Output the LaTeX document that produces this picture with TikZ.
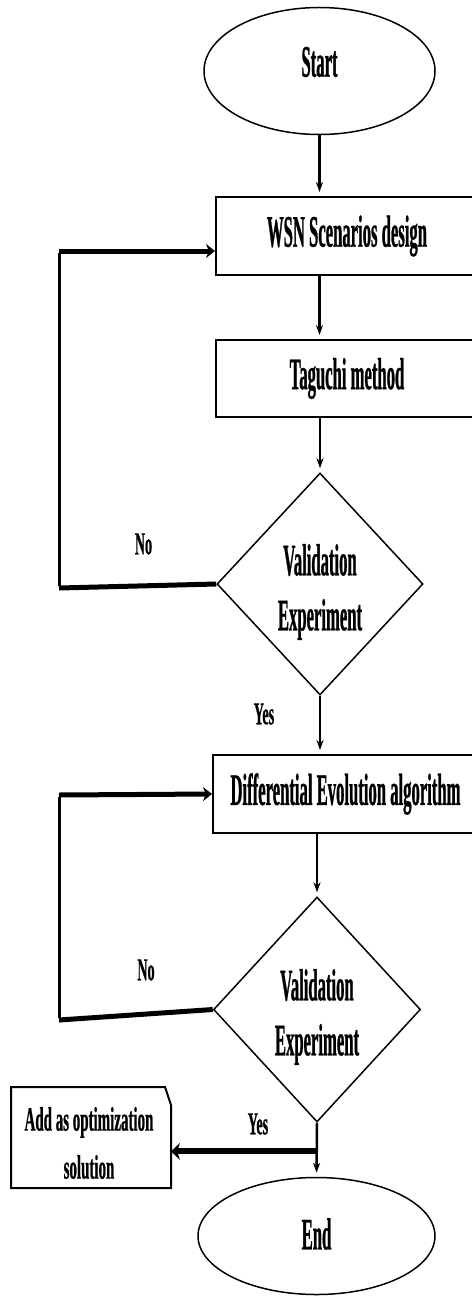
\documentclass[tikz,border=0pt]{standalone}
\usepackage{fontspec}
\setmainfont{Liberation Serif}[FakeStretch=0.37, BoldFeatures={FakeBold=0.6}]
\newfontfamily\notefont{Liberation Serif}[FakeStretch=0.44, BoldFeatures={FakeBold=0.6}]
\usetikzlibrary{shapes.geometric,arrows.meta,calc}
\tikzset{
  big/.style={font=\bfseries\fontsize{45}{55}\selectfont, align=center, inner sep=0pt},
  small/.style={font=\notefont\bfseries\fontsize{32}{47}\selectfont, align=center, inner sep=0pt},
  note/.style={font=\notefont\bfseries\fontsize{34}{48}\selectfont, align=center, inner sep=0pt},
  terminal/.style={ellipse, draw, line width=1.5pt, inner sep=0pt},
  process/.style={rectangle, draw, line width=2pt, inner sep=0pt},
  decision/.style={diamond, draw, line width=1.5pt, inner sep=0pt},
  flow/.style={line width=2.5pt, -{Stealth[length=10pt,width=7pt]}, shorten >=4pt},
  loopline/.style={line width=3pt},
  loophead/.style={line width=5pt, -{Stealth[length=9pt,width=14pt]}},
  loopbase/.style={line width=5pt},
  yesarrow/.style={line width=6pt, -{Stealth[length=9pt,width=17pt]}},
}
\begin{document}
\begin{tikzpicture}[x=1pt,y=-1pt]
\useasboundingbox (0,0) rectangle (471,1297);

% main column
\node[terminal, minimum width=231pt, minimum height=127pt] (start) at (319.5,71) {};
\node[big] (startt) at (319.5,62) {Start};
\node[process, minimum width=262pt, minimum height=78pt, big] (wsn) at (347,236) {WSN Scenarios design};
\node[process, minimum width=262pt, minimum height=77pt, big] (tag) at (347,378.5) {Taguchi method};
\node[decision, minimum width=206pt, minimum height=222pt] (d1) at (320,584) {};
\node[big] (d1t) at (320,592) {Validation\\Experiment};
\node[process, minimum width=265pt, minimum height=78pt, big] (de) at (345.5,794) {Differential Evolution algorithm};
\node[decision, minimum width=207pt, minimum height=225pt] (d2) at (317,1009.5) {};
\node[big] (d2t) at (317,1017) {Validation\\Experiment};
\node[terminal, minimum width=237pt, minimum height=117pt] (end) at (316.5,1236) {};
\node[big] (endt) at (316.5,1234) {End};

% output box with a clipped corner
\path (11,1087) coordinate (aNW) (165,1087) coordinate (aNE) (171,1105) coordinate (aNC)
      (171,1188) coordinate (aSE) (11,1188) coordinate (aSW);
\draw[line width=2pt] (aSW) -- (aNW) -- (aNE) -- (aNC) -- (aSE) -- cycle;
\node[note] (add) at (89,1143) {Add as optimization\\solution};

% branch labels
\node[small] (no1) at (143.5,544) {No};
\node[small] (no2) at (146,970) {No};
\node[small] (yes1) at (264,714) {Yes};
\node[small] (yes2) at (258,1124) {Yes};

% straight flow
\draw[flow] (start.south) -- (start.south |- wsn.north);
\draw[flow] (start.south |- wsn.south) -- (start.south |- tag.north);
\draw[flow] (d1.north |- tag.south) -- (d1.north);
\draw[flow] (d1.south) -- (d1.south |- de.north);
\draw[flow] (d2.north |- de.south) -- (d2.north);
\draw[flow] (d2.south) -- (end.north);

% feedback loops
\coordinate (l1b) at (59,588);
\coordinate (l1t) at (59,251);
\draw[loopbase] (d1.west) -- (l1b);
\draw[loopline] ([yshift=2pt]l1b) -- ([yshift=-2pt]l1t);
\draw[loophead] (l1t) -- ([yshift=-15pt]wsn.west);

\coordinate (l2b) at (59,1020);
\coordinate (l2t) at (59,795);
\draw[loopbase] (d2.west) -- (l2b);
\draw[loopline] ([yshift=2pt]l2b) -- ([yshift=-2pt]l2t);
\draw[loophead] (l2t) -- (de.west);

% accepted solution
\coordinate (j2) at ($(d2.south)!0.53!(end.north)$);
\draw[yesarrow] (j2) -- (j2 -| aSE);
\end{tikzpicture}
\end{document}
